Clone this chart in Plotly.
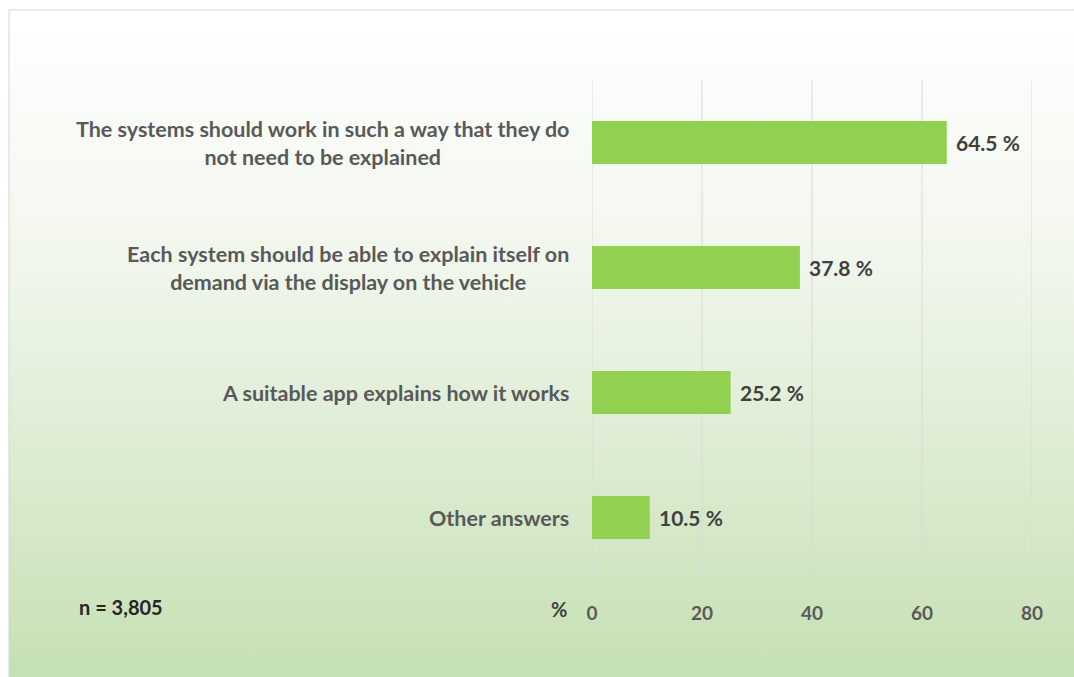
import plotly.graph_objects as go

# Survey answers (top to bottom) and share of respondents in percent
categories = [
    "The systems should work in such a way that they do<br>not need to be explained",
    "Each system should be able to explain itself on<br>demand via the display on the vehicle",
    "A suitable app explains how it works",
    "Other answers",
]
values = [64.5, 37.8, 25.2, 10.5]
x_ticks = [0, 20, 40, 60, 80]
sample_note = "n = 3,805"
unit_label = "%"

FONT = "Lato"
TEXT_DARK = "#404040"
TEXT_GREY = "#595959"
BAR_GREEN = "#92d050"
GRID = "#d9d9d9"

W, H = 1074, 677
L, R, T, B = 592, 42, 80, 97

fig = go.Figure(
    go.Bar(
        x=values,
        y=categories,
        orientation="h",
        marker=dict(color=BAR_GREEN, line=dict(width=0)),
        width=0.345,
        hoverinfo="skip",
    )
)

# Soft white-to-green backdrop panel behind the chart
gradient_svg = (
    "data:image/svg+xml;utf8,"
    "<svg xmlns='http://www.w3.org/2000/svg' width='100' height='100' preserveAspectRatio='none'>"
    "<defs><linearGradient id='g' x1='0' y1='0' x2='0' y2='1'>"
    "<stop offset='0' stop-color='%23ffffff'/>"
    "<stop offset='0.35' stop-color='%23f2f7ee'/>"
    "<stop offset='1' stop-color='%23c5e0b4'/>"
    "</linearGradient></defs>"
    "<rect width='100' height='100' fill='url(%23g)'/></svg>"
)

def px_x(px):
    return (px - L) / (W - L - R)

def px_y(py):
    return (H - B - py) / (H - T - B)

panel_left, panel_top = 9, 10
fig.add_layout_image(
    source=gradient_svg,
    xref="paper", yref="paper",
    x=px_x(panel_left), y=px_y(panel_top),
    sizex=px_x(W + 2) - px_x(panel_left),
    sizey=px_y(panel_top) - px_y(H + 2),
    xanchor="left", yanchor="top",
    sizing="stretch",
    layer="below",
)
# Thin frame on the panel's top and left edges
fig.add_shape(type="line", xref="paper", yref="paper",
              x0=px_x(panel_left), x1=px_x(W + 2), y0=px_y(panel_top), y1=px_y(panel_top),
              line=dict(color="#d4d4d4", width=1), layer="below")
fig.add_shape(type="line", xref="paper", yref="paper",
              x0=px_x(panel_left), x1=px_x(panel_left), y0=px_y(panel_top), y1=px_y(H + 2),
              line=dict(color="#d4d4d4", width=1), layer="below")

# Vertical gridlines at every tick, including both ends of the axis
for t in x_ticks:
    fig.add_shape(type="line", xref="x", yref="paper",
                  x0=t, x1=t, y0=0, y1=1,
                  line=dict(color=GRID, width=1), layer="below")

# Category labels, centred line by line, left of the bars
for cat in categories:
    fig.add_annotation(
        x=px_x(571), xref="paper", y=cat, yref="y",
        text=cat, showarrow=False, xanchor="right", align="center",
        font=dict(family=FONT, size=21.5, color=TEXT_GREY, weight="bold"),
    )

# Value labels at the end of each bar
for cat, v in zip(categories, values):
    fig.add_annotation(
        x=v, y=cat, xref="x", yref="y",
        text=f"{v}\u00a0%", showarrow=False, xanchor="left", xshift=7,
        font=dict(family=FONT, size=21, color=TEXT_DARK, weight="bold"),
    )

fig.add_annotation(
    x=px_x(77), xref="paper", y=px_y(607), yref="paper",
    text=sample_note, showarrow=False, xanchor="left", yanchor="middle",
    font=dict(family=FONT, size=20, color="#262626", weight="bold"),
)
fig.add_annotation(
    x=px_x(569), xref="paper", y=px_y(609), yref="paper",
    text=unit_label, showarrow=False, xanchor="right", yanchor="middle",
    font=dict(family=FONT, size=20, color=TEXT_DARK, weight="bold"),
)

fig.update_layout(
    width=W, height=H,
    margin=dict(l=L, r=R, t=T, b=B, pad=0),
    paper_bgcolor="white",
    plot_bgcolor="rgba(0,0,0,0)",
    showlegend=False,
    bargap=0.655,
    xaxis=dict(
        range=[0, 80],
        tickvals=x_ticks,
        showgrid=False,
        zeroline=False, showline=False,
        ticks="outside", ticklen=16, tickcolor="rgba(0,0,0,0)",
        tickfont=dict(family=FONT, size=19, color=TEXT_GREY, weight="bold"),
        fixedrange=True,
    ),
    yaxis=dict(
        autorange="reversed",
        showticklabels=False,
        showgrid=False, zeroline=False, showline=False,
        fixedrange=True,
    ),
)

fig.write_html("out.html")
